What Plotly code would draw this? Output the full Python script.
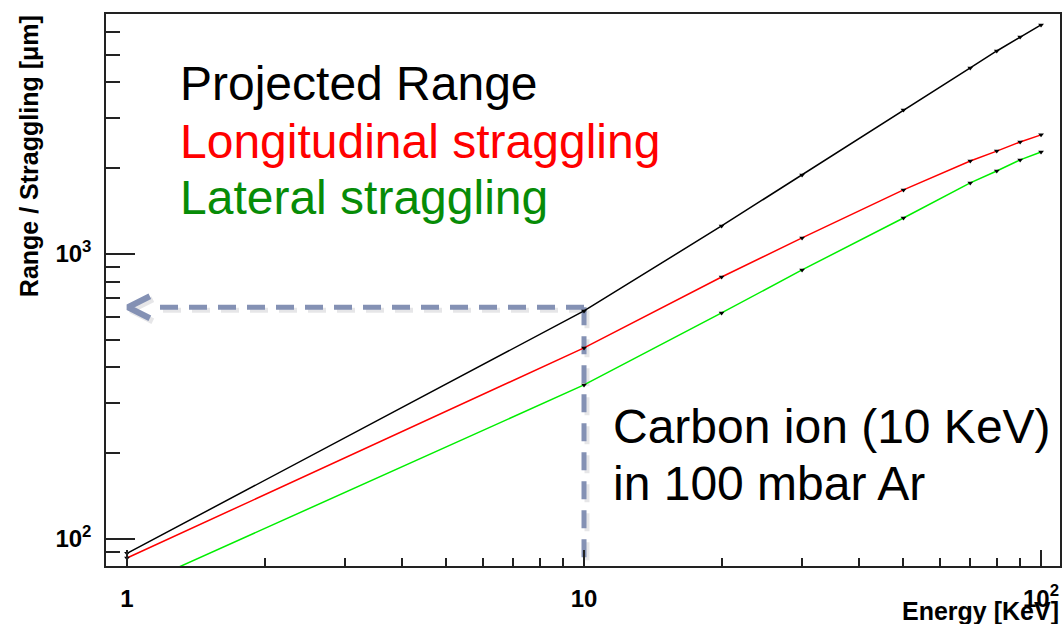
import math
import plotly.graph_objects as go

# ---------------- data ----------------
energy_kev = [1, 10, 20, 30, 50, 70, 80, 90, 100]
projected_range = [89, 631, 1254, 1892, 3198, 4496, 5155, 5771, 6363]
longitudinal_straggling = [85.7, 468, 830, 1138, 1678, 2119, 2296, 2471, 2618]
lateral_straggling = [66, 347, 621, 879, 1337, 1775, 1954, 2138, 2280]

x_tickvals = [1, 10, 100]
x_ticktext = ["1", "10", "10<sup>2</sup>"]
y_tickvals = [100, 1000]
y_ticktext = ["10<sup>2</sup>", "10<sup>3</sup>"]

series_names = ["Projected Range", "Longitudinal straggling", "Lateral straggling"]
line_colors = ["#000000", "#FF0000", "#00EE00"]
text_colors = ["#000000", "#FF0000", "#078C07"]

# ---------------- layout geometry ----------------
W, H = 1064, 624
ML, MR, MT, MB = 106, 2, 14, 58
PW, PH = W - ML - MR, H - MT - MB
X_RANGE = [-0.0459, 2.0415]
Y_RANGE = [1.905, 3.842]
FONT = "Liberation Sans, Arial, Helvetica, sans-serif"


def px(xp):
    return (xp - ML) / PW


def py(yp):
    return (H - MB - yp) / PH


fig = go.Figure()

# dashed guide (arrow) from the 10 keV projected-range point
GUIDE_E = 10
GUIDE_Y = 650
ARROW_TIP_E = 1.005
ARROW_ARM_E = 1.122
ARROW_ARM_FACTOR = 10 ** 0.0386
Y_MIN_VAL = 10 ** Y_RANGE[0]
guide_color = "#8491B4"
shadow = "rgba(60,60,80,0.13)"
sx = 10 ** (3 / (PW / (X_RANGE[1] - X_RANGE[0])))
sy = 10 ** (-3 / (PH / (Y_RANGE[1] - Y_RANGE[0])))

for col, fx, fy in [(shadow, sx, sy), (guide_color, 1, 1)]:
    fig.add_trace(go.Scatter(
        x=[GUIDE_E * fx, ARROW_ARM_E * fx], y=[GUIDE_Y * fy, GUIDE_Y * fy],
        mode="lines", line=dict(color=col, width=5, dash="18px,11px"),
        hoverinfo="skip", showlegend=False))
    fig.add_trace(go.Scatter(
        x=[GUIDE_E * fx, GUIDE_E * fx], y=[GUIDE_Y * fy, Y_MIN_VAL],
        mode="lines", line=dict(color=col, width=5, dash="18px,11px"),
        hoverinfo="skip", showlegend=False))
    fig.add_trace(go.Scatter(
        x=[ARROW_ARM_E * fx, ARROW_TIP_E * fx, ARROW_ARM_E * fx],
        y=[GUIDE_Y * ARROW_ARM_FACTOR * fy, GUIDE_Y * fy, GUIDE_Y / ARROW_ARM_FACTOR * fy],
        mode="lines", line=dict(color=col, width=6),
        hoverinfo="skip", showlegend=False))

for name, vals, col in zip(series_names,
                           [projected_range, longitudinal_straggling, lateral_straggling],
                           line_colors):
    fig.add_trace(go.Scatter(
        x=energy_kev, y=vals, name=name, mode="lines+markers",
        line=dict(color=col, width=1.5),
        marker=dict(symbol="triangle-down", size=5, color="black"),
        showlegend=False))

minor_x = [2, 3, 4, 5, 6, 7, 8, 9, 20, 30, 40, 50, 60, 70, 80, 90]
minor_y = [90, 200, 300, 400, 500, 600, 700, 800, 900, 2000, 3000, 4000, 5000, 6000]

fig.update_layout(
    width=W, height=H,
    margin=dict(l=ML, r=MR, t=MT, b=MB),
    paper_bgcolor="white", plot_bgcolor="white",
    font=dict(family=FONT, color="black"),
    xaxis=dict(
        type="log", range=X_RANGE, showgrid=False, zeroline=False,
        showline=True, linecolor="#222", linewidth=1.5, mirror=True,
        tickmode="array", tickvals=x_tickvals, ticktext=x_ticktext,
        ticks="inside", ticklen=16, tickwidth=1.5, tickcolor="#222",
        tickfont=dict(family=FONT, size=24, color="black", weight="bold"),
        ticklabelstandoff=10,
        minor=dict(tickmode="array", tickvals=minor_x, ticks="inside",
                   ticklen=8, tickwidth=1.5, tickcolor="#222", showgrid=False),
    ),
    yaxis=dict(
        type="log", range=Y_RANGE, showgrid=False, zeroline=False,
        showline=True, linecolor="#222", linewidth=1.5, mirror=True,
        tickmode="array", tickvals=y_tickvals, ticktext=y_ticktext,
        ticks="inside", ticklen=29, tickwidth=1.5, tickcolor="#222",
        tickfont=dict(family=FONT, size=24, color="black", weight="bold"),
        ticklabelstandoff=8,
        minor=dict(tickmode="array", tickvals=minor_y, ticks="inside",
                   ticklen=14, tickwidth=1.5, tickcolor="#222", showgrid=False),
    ),
)

annots = []
# axis titles
annots.append(dict(text="<b>Energy [KeV]</b>", xref="paper", yref="paper",
                   x=px(1063), y=py(611), xanchor="right", yanchor="middle",
                   showarrow=False, font=dict(family=FONT, size=25, color="black")))
annots.append(dict(text="<b>Range / Straggling [\u03bcm]</b>", xref="paper", yref="paper",
                   x=px(29), y=py(13), xanchor="center", yanchor="top", textangle=-90,
                   showarrow=False, font=dict(family=FONT, size=25, color="black")))
# legend-like texts
for name, col, yc in zip(series_names, text_colors, [80, 138, 194]):
    annots.append(dict(text=name, xref="paper", yref="paper",
                       x=px(178), y=py(yc + 3), xanchor="left", yanchor="middle",
                       showarrow=False, font=dict(family=FONT, size=48, color=col)))
for line, yc in zip(["Carbon ion (10 KeV)", "in 100 mbar Ar"], [423, 480]):
    annots.append(dict(text=line, xref="paper", yref="paper",
                       x=px(612), y=py(yc + 3), xanchor="left", yanchor="middle",
                       showarrow=False, font=dict(family=FONT, size=48, color="black")))
fig.update_layout(annotations=annots)

fig.write_html("out.html")
